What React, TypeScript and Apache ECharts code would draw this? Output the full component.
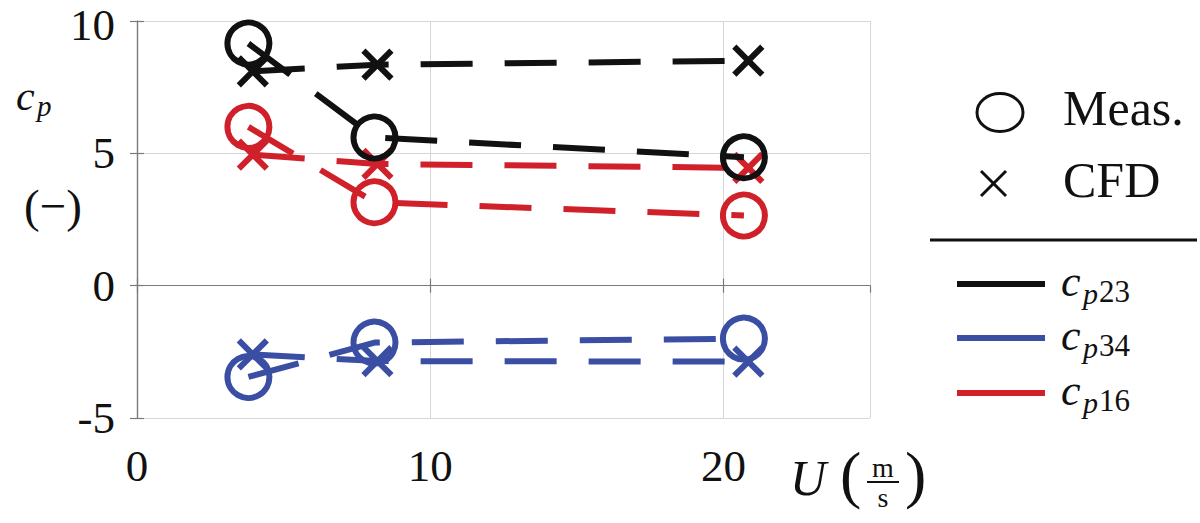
import React, { useEffect, useRef } from "react";
import * as echarts from "echarts";

// ---- data ----
const speedMeas = [3.8, 8.1, 20.7];
const speedCFD = [3.95, 8.2, 20.85];
const cp23Meas = [9.15, 5.6, 4.85];
const cp23CFD = [8.1, 8.35, 8.5];
const cp34Meas = [-3.45, -2.15, -2.0];
const cp34CFD = [-2.6, -2.85, -2.87];
const cp16Meas = [6.0, 3.15, 2.65];
const cp16CFD = [4.95, 4.6, 4.45];
const xRange = [0, 25];
const yRange = [-5, 10];
const xStep = 10;
const yStep = 5;

const BLACK = "#111111";
const BLUE = "#3a4ea3";
const RED = "#d0202a";
const FONT = "Liberation Serif";
const AXIS_COLOR = "#7a7a7a";
const GRID_COLOR = "#d6d6d6";

const pairs = (xs: number[], ys: number[]) => xs.map((x, i) => [x, ys[i]]);

const CROSS = "path://M0,0L10,10M0,10L10,0";

function makeSeries(name: string, xs: number[], ys: number[], color: string, meas: boolean) {
  return {
    name,
    type: "line",
    data: pairs(xs, ys),
    symbol: meas ? "circle" : CROSS,
    symbolSize: meas ? 42 : 28,
    clip: false,
    silent: true,
    lineStyle: { color, width: 6, type: [52, 32], cap: "butt" },
    itemStyle: { color: "rgba(0,0,0,0)", borderColor: color, borderWidth: 6 },
    emphasis: { disabled: true },
    z: meas ? 3 : 2,
  };
}

export default function App() {
  const ref = useRef<HTMLDivElement>(null);
  useEffect(() => {
    if (!ref.current) return;
    const chart = echarts.init(ref.current, undefined, { renderer: "svg" });
    const axisLine = { show: true, lineStyle: { color: AXIS_COLOR, width: 1.2 } };
    const axisTick = { show: true, inside: true, length: 7, lineStyle: { color: AXIS_COLOR, width: 1.2 } };
    const labelStyle = { fontFamily: FONT, fontSize: 45, lineHeight: 40, color: "#111" };
    const text = (t: string, x: number, y: number, size: number, extra: any = {}) => ({
      type: "text",
      x,
      y,
      silent: true,
      style: {
        text: t,
        fontFamily: FONT,
        fontSize: size,
        fill: "#111",
        textAlign: "left",
        textVerticalAlign: "middle",
        ...extra,
      },
    });
    const line = (x1: number, y1: number, x2: number, y2: number, color: string, w: number) => ({
      type: "line",
      silent: true,
      shape: { x1, y1, x2, y2 },
      style: { stroke: color, lineWidth: w },
    });
    const option: any = {
      animation: false,
      backgroundColor: "#ffffff",
      textStyle: { fontFamily: FONT },
      grid: {
        left: 137,
        top: 21,
        right: 330,
        bottom: 105,
        containLabel: false,
        outerBoundsMode: "none",
      },
      xAxis: [
        {
          type: "value",
          min: xRange[0],
          max: xRange[1],
          interval: xStep,
          position: "bottom",
          axisLine,
          axisTick,
          axisLabel: { ...labelStyle, margin: 28, showMaxLabel: false },
          splitLine: { show: true, lineStyle: { color: GRID_COLOR, width: 1 } },
        },
        {
          type: "value",
          min: xRange[0],
          max: xRange[1],
          interval: xStep,
          position: "top",
          axisLine,
          axisTick,
          axisLabel: { show: false },
          splitLine: { show: false },
        },
      ],
      yAxis: [
        {
          type: "value",
          min: yRange[0],
          max: yRange[1],
          interval: yStep,
          position: "left",
          axisLine,
          axisTick,
          axisLabel: {
            ...labelStyle,
            margin: 22,
            formatter: (v: number) => (v === yRange[1] ? "{top|" + v + "}" : String(v)),
            rich: {
              top: { fontFamily: FONT, fontSize: 45, lineHeight: 40, color: "#111", padding: [8, 0, 0, 0] },
            },
          },
          splitLine: { show: true, lineStyle: { color: GRID_COLOR, width: 1 } },
        },
        {
          type: "value",
          min: yRange[0],
          max: yRange[1],
          interval: yStep,
          position: "right",
          axisLine,
          axisTick,
          axisLabel: { show: false },
          splitLine: { show: false },
        },
      ],
      series: [
        makeSeries("cp23 CFD", speedCFD, cp23CFD, BLACK, false),
        makeSeries("cp23 Meas.", speedMeas, cp23Meas, BLACK, true),
        makeSeries("cp16 CFD", speedCFD, cp16CFD, RED, false),
        makeSeries("cp16 Meas.", speedMeas, cp16Meas, RED, true),
        makeSeries("cp34 CFD", speedCFD, cp34CFD, BLUE, false),
        makeSeries("cp34 Meas.", speedMeas, cp34Meas, BLUE, true),
      ],
      graphic: [
        // y axis name
        text("c", 16, 96, 42, { fontStyle: "italic" }),
        text("p", 37, 106, 29, { fontStyle: "italic" }),
        text("(\u2212)", 53, 206, 47, { textAlign: "center" }),
        // x axis name
        text("U", 790, 478, 50, { fontStyle: "italic" }),
        text("(", 840, 474, 64),
        text("m", 883, 467, 28, { textAlign: "center", lineHeight: 22 }),
        line(867, 482, 899, 482, "#111", 2),
        text("s", 883, 497, 28, { textAlign: "center", lineHeight: 22 }),
        text(")", 905, 474, 64),
        // marker legend
        {
          type: "ellipse",
          silent: true,
          shape: { cx: 1000, cy: 112.5, rx: 23, ry: 19 },
          style: { fill: "none", stroke: "#111", lineWidth: 3 },
        },
        line(981, 171, 1006, 196, "#111", 3),
        line(981, 196, 1006, 171, "#111", 3),
        text("Meas.", 1063, 108, 50),
        text("CFD", 1063, 180, 50),
        line(930, 240, 1197, 240, "#111", 3),
        // colour legend
        line(957, 284, 1045, 284, BLACK, 6),
        line(957, 338, 1045, 338, BLUE, 6),
        line(957, 393, 1045, 393, RED, 6),
        text("c", 1061, 281, 44, { fontStyle: "italic" }),
        text("p", 1083, 293, 30, { fontStyle: "italic" }),
        text("23", 1099, 291, 31),
        text("c", 1061, 335, 44, { fontStyle: "italic" }),
        text("p", 1083, 347, 30, { fontStyle: "italic" }),
        text("34", 1099, 345, 31),
        text("c", 1061, 390, 44, { fontStyle: "italic" }),
        text("p", 1083, 402, 30, { fontStyle: "italic" }),
        text("16", 1099, 400, 31),
      ],
    };
    chart.setOption(option);
    return () => chart.dispose();
  }, []);
  return (
    <div
      ref={ref}
      style={{ position: "fixed", left: 0, top: 0, width: 1200, height: 523, background: "#fff" }}
    />
  );
}
